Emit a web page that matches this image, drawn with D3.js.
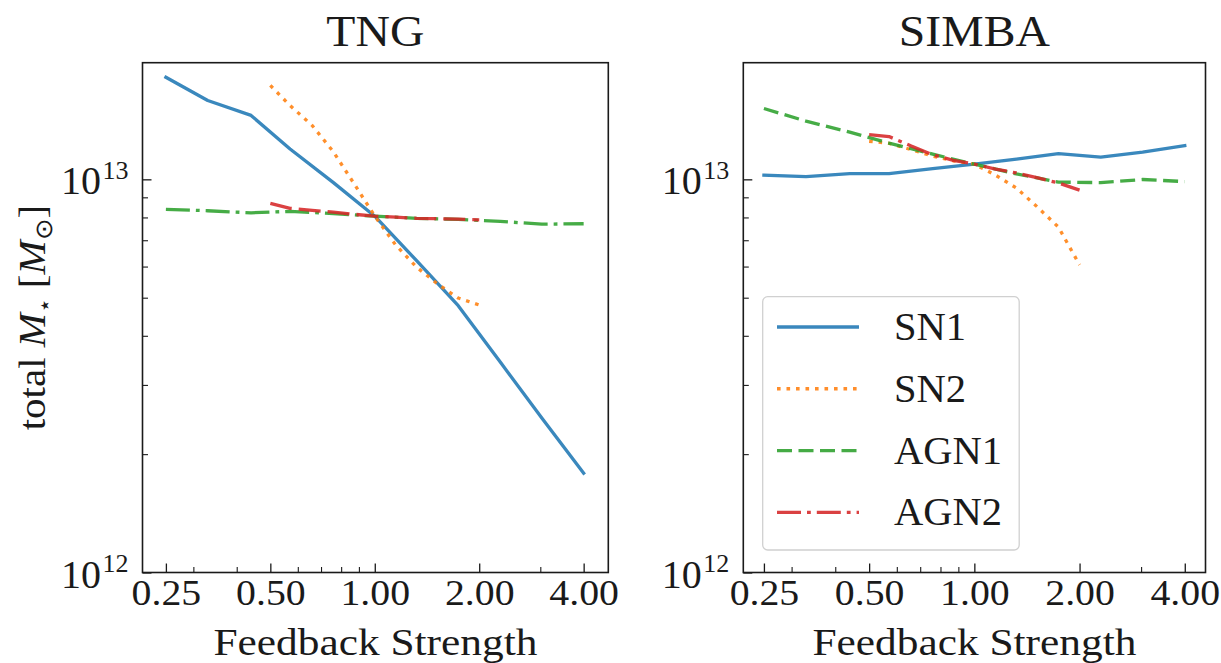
<!DOCTYPE html>
<html>
<head>
<meta charset="utf-8">
<script src="https://cdn.jsdelivr.net/npm/d3@7"></script>
<style>
  body { margin: 0; background: #fff; }
  svg { display: block; }
  text { font-family: "Liberation Serif", "Times New Roman", serif; fill: #1a1a1a; }
</style>
</head>
<body>
<svg id="chart" width="1221" height="663"></svg>
<script>
// Feedback-strength grids of the one-parameter variations
const strengthWide   = [0.25, 0.33, 0.44, 0.57, 0.76, 1.0, 1.32, 1.74, 2.3, 3.03, 4.0];   // SN1, AGN1
const strengthNarrow = [0.5, 0.57, 0.66, 0.76, 0.87, 1.0, 1.15, 1.32, 1.52, 1.74, 2.0];   // SN2, AGN2

// Total stellar mass [M_sun]
const tngSN1  = [1.818e13, 1.587e13, 1.454e13, 1.194e13, 0.981e13, 0.806e13, 0.621e13, 0.477e13, 0.343e13, 0.247e13, 0.179e13];
const tngSN2  = [1.733e13, 1.541e13, 1.371e13, 1.175e13, 0.977e13, 0.806e13, 0.680e13, 0.598e13, 0.541e13, 0.499e13, 0.479e13];
const tngAGN1 = [0.839e13, 0.832e13, 0.822e13, 0.829e13, 0.818e13, 0.806e13, 0.796e13, 0.791e13, 0.782e13, 0.769e13, 0.771e13];
const tngAGN2 = [0.869e13, 0.844e13, 0.834e13, 0.825e13, 0.815e13, 0.806e13, 0.801e13, 0.796e13, 0.794e13, 0.792e13, 0.789e13];

const simbaSN1  = [1.025e13, 1.016e13, 1.034e13, 1.034e13, 1.065e13, 1.093e13, 1.126e13, 1.163e13, 1.139e13, 1.173e13, 1.218e13];
const simbaSN2  = [1.250e13, 1.235e13, 1.190e13, 1.145e13, 1.115e13, 1.093e13, 1.025e13, 0.950e13, 0.848e13, 0.756e13, 0.606e13];
const simbaAGN1 = [1.514e13, 1.406e13, 1.318e13, 1.236e13, 1.159e13, 1.093e13, 1.032e13, 0.984e13, 0.981e13, 0.999e13, 0.987e13];
const simbaAGN2 = [1.299e13, 1.285e13, 1.215e13, 1.155e13, 1.118e13, 1.093e13, 1.062e13, 1.038e13, 1.008e13, 0.979e13, 0.939e13];

const seriesNames = ["SN1", "SN2", "AGN1", "AGN2"];
const panelTitles = ["TNG", "SIMBA"];

const xTickValues = [0.25, 0.5, 1, 2, 4];
const xTickLabels = ["0.25", "0.50", "1.00", "2.00", "4.00"];
const xMinorTicks = [0.3, 0.4, 0.6, 0.7, 0.8, 0.9, 3];
const yMajorTicks = [1e12, 1e13];
const yMajorExps  = ["12", "13"];
const yMinorTicks = [2e12, 3e12, 4e12, 5e12, 6e12, 7e12, 8e12, 9e12];

const xAxisLabel = "Feedback Strength";

// ---- styling ----
const colors = { SN1: "#1f77b4", SN2: "#ff7f0e", AGN1: "#2ca02c", AGN2: "#d62728" };
const LW = 3.3;
const DOTTED  = "3.6 5.9";
const DASHED  = "15 6.5";
const DASHDOT = "24 6 3.8 6";
const LONGDASH = "22 7";

// widen the serif glyphs a little so labels keep a roomier, TeX-like proportion
function widen(sel, factor) {
  sel.each(function () {
    const w = this.getComputedTextLength();
    d3.select(this).attr("textLength", w * factor).attr("lengthAdjust", "spacingAndGlyphs");
  });
}

const svg = d3.select("#chart");
const plotTop = 62.7, plotBottom = 572.5;

const panels = [
  { title: panelTitles[0], x0: 142.5, x1: 608.3, pad: [0.224, 0.236],
    series: [
      { name: "SN1",  s: strengthWide,   v: tngSN1,  dash: null },
      { name: "SN2",  s: strengthNarrow, v: tngSN2,  dash: DOTTED },
      { name: "AGN1", s: strengthWide,   v: tngAGN1, dash: DASHDOT },
      { name: "AGN2", s: strengthNarrow, v: tngAGN2, dash: LONGDASH }
    ], legend: false },
  { title: panelTitles[1], x0: 743.3, x1: 1205.5, pad: [0.196, 0.197],
    series: [
      { name: "SN1",  s: strengthWide,   v: simbaSN1,  dash: null },
      { name: "SN2",  s: strengthNarrow, v: simbaSN2,  dash: DOTTED },
      { name: "AGN1", s: strengthWide,   v: simbaAGN1, dash: DASHED },
      { name: "AGN2", s: strengthNarrow, v: simbaAGN2, dash: DASHDOT }
    ], legend: true }
];

const legendDash = { SN1: null, SN2: DOTTED, AGN1: DASHED, AGN2: DASHDOT };

panels.forEach((p, pi) => {
  const x = d3.scaleLog()
    .domain([0.25 * Math.pow(2, -p.pad[0]), 4 * Math.pow(2, p.pad[1])])
    .range([p.x0, p.x1]);
  const y = d3.scaleLog().domain([1e12, 1.98e13]).range([plotBottom, plotTop]);

  const g = svg.append("g");
  const clipId = "clip" + pi;
  g.append("clipPath").attr("id", clipId).append("rect")
    .attr("x", p.x0).attr("y", plotTop).attr("width", p.x1 - p.x0).attr("height", plotBottom - plotTop);

  // data lines
  const line = d3.line().x(d => x(d[0])).y(d => y(d[1]));
  const lines = g.append("g").attr("clip-path", `url(#${clipId})`);
  p.series.forEach(s => {
    lines.append("path")
      .attr("d", line(s.s.map((k, i) => [k, s.v[i]])))
      .attr("fill", "none")
      .attr("stroke", colors[s.name])
      .attr("stroke-width", LW)
      .attr("stroke-linejoin", "round")
      .attr("stroke-linecap", s.dash ? "butt" : "square")
      .attr("stroke-dasharray", s.dash)
      .attr("opacity", 0.88);
  });

  // x axis: major + minor ticks pointing inward
  const xMajor = g.append("g").attr("transform", `translate(0,${plotBottom})`)
    .call(d3.axisBottom(x).tickValues(xTickValues)
      .tickFormat((d, i) => xTickLabels[i]).tickSizeInner(-9).tickSizeOuter(0));
  xMajor.select(".domain").remove();
  xMajor.attr("font-family", null).attr("font-size", null);
  xMajor.selectAll(".tick line").attr("stroke", "#1a1a1a").attr("stroke-width", 1.3);
  const xt = xMajor.selectAll(".tick text").attr("y", 32.5).attr("dy", 0)
    .attr("font-size", 36.5).attr("fill", "#1a1a1a");
  widen(xt, 1.09);

  const xMinor = g.append("g").attr("transform", `translate(0,${plotBottom})`)
    .call(d3.axisBottom(x).tickValues(xMinorTicks).tickFormat("").tickSizeInner(-5.5).tickSizeOuter(0));
  xMinor.select(".domain").remove();
  xMinor.selectAll(".tick line").attr("stroke", "#1a1a1a").attr("stroke-width", 1.1);

  // y axis: decades as 10^n
  const yMajor = g.append("g").attr("transform", `translate(${p.x0},0)`)
    .call(d3.axisLeft(y).tickValues(yMajorTicks).tickFormat("").tickSizeInner(-9).tickSizeOuter(0));
  yMajor.select(".domain").remove();
  yMajor.attr("font-family", null).attr("font-size", null);
  yMajor.selectAll(".tick text").remove();
  yMajor.selectAll(".tick line").attr("stroke", "#1a1a1a").attr("stroke-width", 1.3);
  yMajor.selectAll(".tick").each(function (d, i) {
    const t = d3.select(this).append("text")
      .attr("x", -14).attr("y", 14.5)
      .attr("text-anchor", "end").attr("font-size", 40);
    t.append("tspan").text("10");
    t.append("tspan").attr("dx", 1.5).attr("dy", -15.5).attr("font-size", 26).text(yMajorExps[i]);
  });

  const yMinor = g.append("g").attr("transform", `translate(${p.x0},0)`)
    .call(d3.axisLeft(y).tickValues(yMinorTicks).tickFormat("").tickSizeInner(-5.5).tickSizeOuter(0));
  yMinor.select(".domain").remove();
  yMinor.selectAll(".tick line").attr("stroke", "#1a1a1a").attr("stroke-width", 1.1);

  // frame
  g.append("rect")
    .attr("x", p.x0).attr("y", plotTop).attr("width", p.x1 - p.x0).attr("height", plotBottom - plotTop)
    .attr("fill", "none").attr("stroke", "#1a1a1a").attr("stroke-width", 1.6);

  const cx = (p.x0 + p.x1) / 2;
  const title = g.append("text").attr("x", cx).attr("y", 46).attr("text-anchor", "middle")
    .attr("font-size", 45).text(p.title);
  widen(title, 1.06);
  g.append("text").attr("x", cx).attr("y", 655).attr("text-anchor", "middle")
    .attr("font-size", 38).attr("textLength", 324).attr("lengthAdjust", "spacingAndGlyphs")
    .text(xAxisLabel);

  if (p.legend) {
    const lg = g.append("g");
    lg.append("rect")
      .attr("x", 762.7).attr("y", 296.7).attr("width", 1019.2 - 762.7).attr("height", 550 - 296.7)
      .attr("rx", 5).attr("fill", "#fff").attr("fill-opacity", 0.8)
      .attr("stroke", "#d0d0d0").attr("stroke-width", 1.3);
    const rowY = d3.scaleLinear().domain([0, 3]).range([327, 512.3]);
    seriesNames.forEach((name, i) => {
      const yy = rowY(i);
      lg.append("line")
        .attr("x1", 777).attr("x2", 859).attr("y1", yy).attr("y2", yy)
        .attr("stroke", colors[name]).attr("stroke-width", LW)
        .attr("stroke-dasharray", legendDash[name]).attr("opacity", 0.88);
      const lt = lg.append("text").attr("x", 894).attr("y", yy + 13)
        .attr("font-size", 39).text(name);
      widen(lt, 1.04);
    });
  }
});

// shared y-axis label: total M_star [M_sun]
const yl = svg.append("text")
  .attr("transform", "translate(45,317.6) rotate(-90) scale(1.08,1)")
  .attr("text-anchor", "middle").attr("font-size", 38);
yl.append("tspan").text("total ");
yl.append("tspan").attr("font-style", "italic").text("M");
yl.append("tspan").attr("font-size", 22).attr("dy", 7).text("⋆");
yl.append("tspan").attr("dy", -7).text(" [");
yl.append("tspan").attr("font-style", "italic").text("M");
yl.append("tspan").attr("font-size", 24).attr("dy", 7).text("⊙");
yl.append("tspan").attr("dy", -7).text("]");
</script>
</body>
</html>
